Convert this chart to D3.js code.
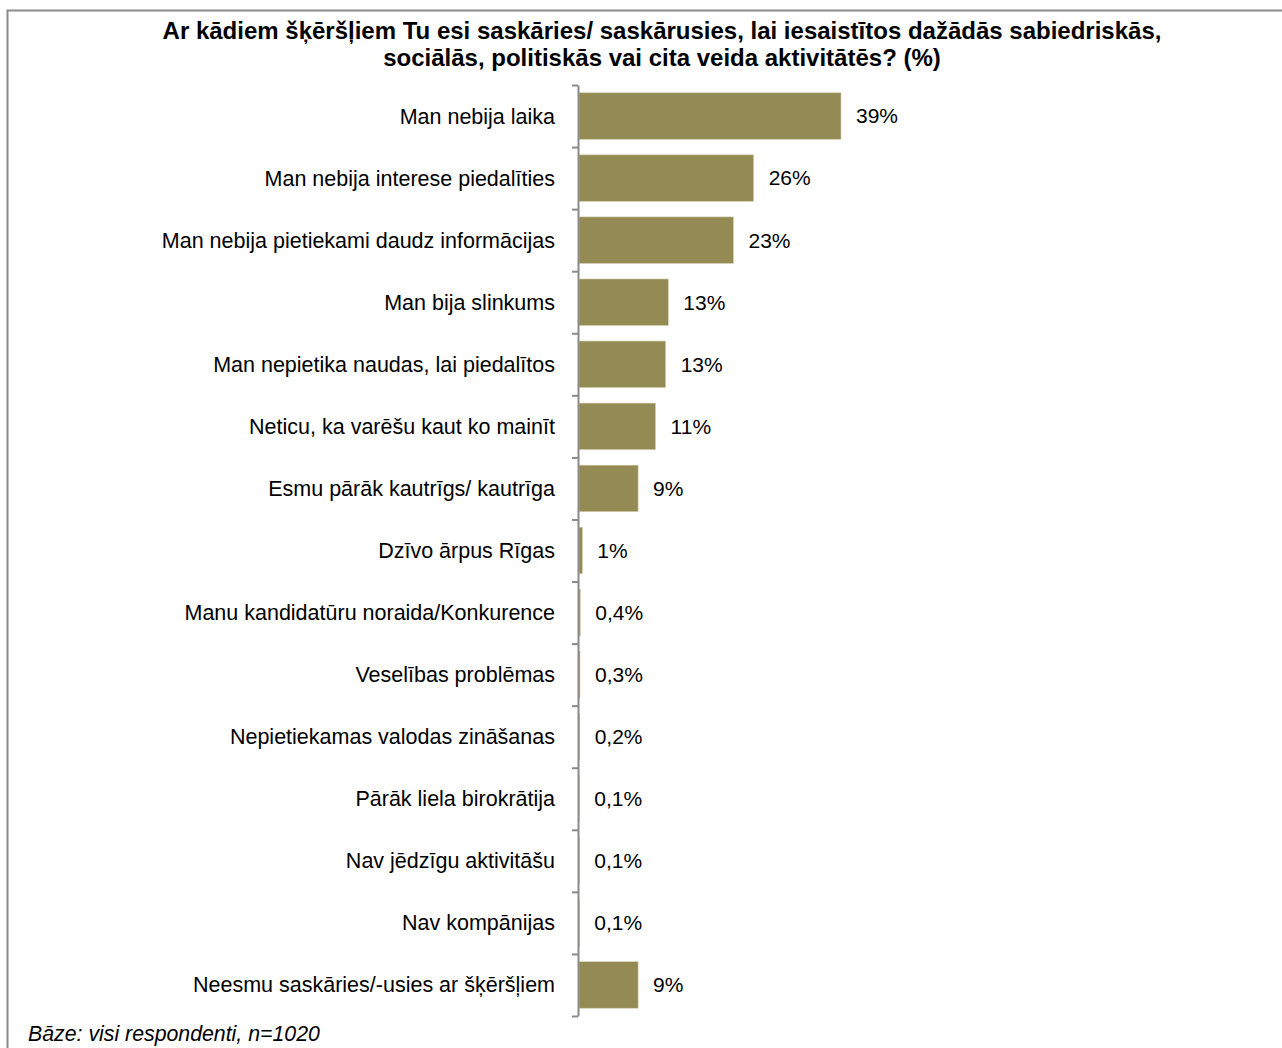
<!DOCTYPE html>
<html><head><meta charset="utf-8">
<script src="https://cdn.jsdelivr.net/npm/d3@7"></script>
<style>
html,body{margin:0;padding:0;background:#fff;}
svg{display:block;font-family:"Liberation Sans",Arial,sans-serif;}
</style></head>
<body>
<script>
const titleLines = [
  "Ar kādiem šķēršļiem Tu esi saskāries/ saskārusies, lai iesaistītos dažādās sabiedriskās,",
  "sociālās, politiskās vai cita veida aktivitātēs? (%)"
];
const categories = [
  "Man nebija laika",
  "Man nebija interese piedalīties",
  "Man nebija pietiekami daudz informācijas",
  "Man bija slinkums",
  "Man nepietika naudas, lai piedalītos",
  "Neticu, ka varēšu kaut ko mainīt",
  "Esmu pārāk kautrīgs/ kautrīga",
  "Dzīvo ārpus Rīgas",
  "Manu kandidatūru noraida/Konkurence",
  "Veselības problēmas",
  "Nepietiekamas valodas zināšanas",
  "Pārāk liela birokrātija",
  "Nav jēdzīgu aktivitāšu",
  "Nav kompānijas",
  "Neesmu saskāries/-usies ar šķēršļiem"
];
const values = [39, 26, 23, 13.3, 12.9, 11.4, 8.8, 0.5, 0.2, 0.15, 0.1, 0.05, 0.05, 0.05, 8.8];
const valueLabels = ["39%", "26%", "23%", "13%", "13%", "11%", "9%", "1%", "0,4%", "0,3%", "0,2%", "0,1%", "0,1%", "0,1%", "9%"];
const footnote = "Bāze: visi respondenti, n=1020";

const W = 1282, H = 1048;
const svg = d3.select("body").append("svg").attr("width", W).attr("height", H);

// frame
svg.append("path")
  .attr("d", `M7.5,${H} L7.5,10.5 L${W},10.5`)
  .attr("fill", "none").attr("stroke", "#8a8a8a").attr("stroke-width", 2);

// title
svg.append("g").selectAll("text").data(titleLines).join("text")
  .attr("x", 662).attr("y", (d, i) => 39 + i * 27)
  .attr("text-anchor", "middle")
  .attr("font-weight", "bold").attr("font-size", 24).attr("fill", "#000")
  .text(d => d);

const x0 = 578, plotTop = 85, plotBottom = 1016;
const x = d3.scaleLinear().domain([0, 39]).range([x0, 840]);
const y = d3.scaleBand().domain(categories).range([plotTop, plotBottom]).paddingInner(0.25).paddingOuter(0.125);

// bars
svg.append("g").selectAll("rect").data(values).join("rect")
  .attr("x", x(0) + 1)
  .attr("y", (d, i) => y(categories[i]))
  .attr("width", d => Math.max(0, x(d) - x(0)))
  .attr("height", y.bandwidth())
  .attr("fill", "#948a54")
  .attr("stroke", "#d8d2b4").attr("stroke-width", 0.6);

// axis with ticks at category boundaries
const boundaryScale = d3.scaleLinear().domain([0, categories.length]).range([plotTop, plotBottom]);
const axis = d3.axisLeft(boundaryScale).tickValues(d3.range(0, categories.length + 1)).tickSize(6).tickSizeOuter(0).tickFormat("");
const ag = svg.append("g").attr("transform", `translate(${x0},0)`).call(axis);
ag.selectAll("path,line").attr("stroke", "#8a8a8a").attr("stroke-width", 2);

// category labels
svg.append("g").selectAll("text").data(categories).join("text")
  .attr("x", 555)
  .attr("y", d => y(d) + y.bandwidth() / 2)
  .attr("dy", "0.35em")
  .attr("text-anchor", "end")
  .attr("font-size", 21.5).attr("fill", "#000")
  .text(d => d);

// value labels
svg.append("g").selectAll("text").data(values).join("text")
  .attr("x", d => x(d) + 16)
  .attr("y", (d, i) => y(categories[i]) + y.bandwidth() / 2)
  .attr("dy", "0.35em")
  .attr("font-size", 21).attr("fill", "#000")
  .text((d, i) => valueLabels[i]);

// footnote
svg.append("text")
  .attr("x", 28).attr("y", 1041)
  .attr("font-style", "italic").attr("font-size", 21.3).attr("fill", "#000")
  .text(footnote);
</script>
</body></html>
